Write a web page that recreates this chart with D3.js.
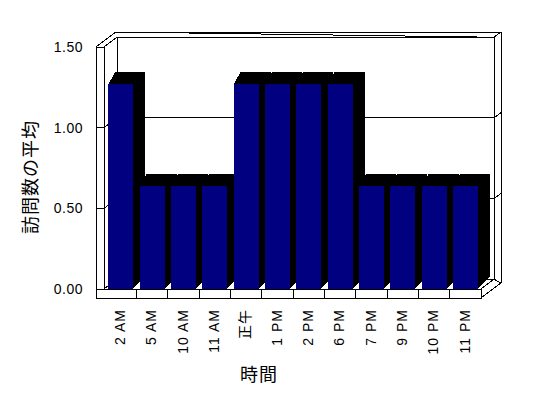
<!DOCTYPE html>
<html>
<head>
<meta charset="utf-8">
<script src="https://cdn.jsdelivr.net/npm/d3@7"></script>
<style>
  html, body { margin: 0; padding: 0; background: #fff; }
  svg { display: block; }
</style>
</head>
<body>
<svg id="chart"></svg>
<script>
// data
const categories = ["2 AM", "5 AM", "10 AM", "11 AM", "正午", "1 PM", "2 PM", "6 PM", "7 PM", "9 PM", "10 PM", "11 PM"];
const visits = [1.27, 0.64, 0.64, 0.64, 1.27, 1.27, 1.27, 1.27, 0.64, 0.64, 0.64, 0.64];
const yTicks = [0, 0.5, 1.0, 1.5];
const yTitle = "訪問数の平均";
const xTitle = "時間";

const width = 548, height = 398;
const svg = d3.select("#chart")
    .attr("width", width)
    .attr("height", height)
    .attr("font-family", "'Liberation Sans', Arial, sans-serif");

// front plane scales
const x = d3.scaleBand().domain(categories).range([105, 481]).paddingInner(0).paddingOuter(0);
const y = d3.scaleLinear().domain([0, 1.5]).range([289, 47]);

// oblique depth: push a point back d pixels
const back = (p, d) => [p[0] + d, p[1] - d * 0.75];
const floorDepth = 13, wallDepth = 20;
const wallLeft = 96, wallInner = 104;
const floorBottom = 298;
const right = x.range()[1];

const line = d3.line();
const g = svg.append("g")
    .attr("fill", "#fff")
    .attr("stroke", "#000")
    .attr("stroke-width", 1)
    .attr("shape-rendering", "crispEdges");

// back wall, front face + top + right side
const bwTL = back([wallInner, y(1.5)], floorDepth);
const bwTR = back([right, y(1.5)], floorDepth);
const bwBR = back([right, y(0)], floorDepth);
const bwBL = back([wallInner, y(0)], floorDepth);
g.append("path").attr("d", line([bwTL, bwTR, bwBR, bwBL]) + "Z");
g.append("path").attr("d", line([
  back([wallLeft, y(1.5)], wallDepth), back([right, y(1.5)], wallDepth),
  back([right, floorBottom], wallDepth), back([right, floorBottom], floorDepth),
  bwBR, bwTR
]) + "Z");
g.append("path").attr("d", line([bwTR, back([right, y(1.5)], wallDepth)]));

// grid lines over left wall and back wall
yTicks.filter(t => t > 0 && t < 1.5).forEach(t => {
  const p0 = [wallLeft, y(t)], p1 = [wallInner, y(t)];
  const p2 = back(p1, floorDepth);
  const p3 = back([right, y(t)], floorDepth);
  const p4 = back([right, y(t)], wallDepth);
  g.append("path").attr("fill", "none").attr("d", line([p0, p1, p2, p3, p4]));
});

// left wall
g.append("path").attr("fill", "none").attr("d", line([[wallLeft, floorBottom], [wallLeft, y(1.5)], [wallInner, y(1.5)], [wallInner, y(0)]]));
g.append("path").attr("fill", "none").attr("d", line([[wallLeft, y(1.5)], back([wallLeft, y(1.5)], wallDepth)]));
g.append("path").attr("fill", "none").attr("d", line([[wallInner, y(1.5)], bwTL]));

// floor
g.append("path").attr("d", line([[wallInner, y(0)], [right, y(0)], bwBR, bwBL]) + "Z");
g.append("path").attr("d", line([[wallLeft, y(0)], [right, y(0)], [right, floorBottom], [wallLeft, floorBottom]]) + "Z");
g.append("path").attr("d", line([[right, y(0)], bwBR, back([right, floorBottom], wallDepth), [right, floorBottom]]) + "Z");
g.selectAll(".sep")
  .data(categories.slice(1))
  .join("path")
    .attr("class", "sep")
    .attr("d", d => line([[x(d), y(0)], [x(d), floorBottom]]));

// y ticks
g.selectAll(".tick")
  .data(yTicks)
  .join("path")
    .attr("class", "tick")
    .attr("d", d => line([[wallLeft, y(d)], [wallLeft + 4, y(d)]]));

// bars
const bw = 25, bOff = 3.3, bd = 12;
const bars = svg.append("g").attr("shape-rendering", "crispEdges");
categories.forEach((c, i) => {
  const xl = x(c) + bOff, xr = xl + bw;
  const yt = y(visits[i]), yb = y(0) - 0.5;
  bars.append("path")
      .attr("fill", "#000")
      .attr("d", line([[xl, yt], [xl + 7, yt - bd], [xr + bd, yt - bd], [xr + bd, yb - bd], [xr, yb]]) + "Z");
  bars.append("rect")
      .attr("fill", "#000080")
      .attr("x", xl)
      .attr("y", yt)
      .attr("width", bw)
      .attr("height", yb - yt);
});

// y labels
svg.append("g")
    .attr("font-size", 14)
    .attr("letter-spacing", "0.5px")
    .attr("text-anchor", "end")
  .selectAll("text")
  .data(yTicks)
  .join("text")
    .attr("x", 83)
    .attr("y", d => y(d))
    .attr("dy", "0.36em")
    .text(d => d.toFixed(2));

// x labels
svg.append("g")
    .attr("font-size", 14)
    .attr("letter-spacing", "1px")
    .attr("text-anchor", "end")
  .selectAll("text")
  .data(categories)
  .join("text")
    .attr("transform", d => `translate(${x(d) + x.bandwidth() / 2},309) rotate(-90)`)
    .attr("dy", "0.3em")
    .attr("font-family", d => /[^\x00-\x7f]/.test(d) ? "'Noto Sans CJK JP'" : null)
    .text(d => d);

// axis titles
svg.append("text")
    .attr("transform", "translate(31,177) rotate(-90)")
    .attr("text-anchor", "middle")
    .attr("dy", "0.35em")
    .attr("font-family", "'Noto Sans CJK JP'")
    .attr("font-size", 18)
    .attr("letter-spacing", "1px")
    .text(yTitle);

svg.append("text")
    .attr("x", 259)
    .attr("y", 375)
    .attr("text-anchor", "middle")
    .attr("dy", "0.35em")
    .attr("font-family", "'Noto Sans CJK JP'")
    .attr("font-size", 18)
    .attr("letter-spacing", "1px")
    .text(xTitle);
</script>
</body>
</html>
